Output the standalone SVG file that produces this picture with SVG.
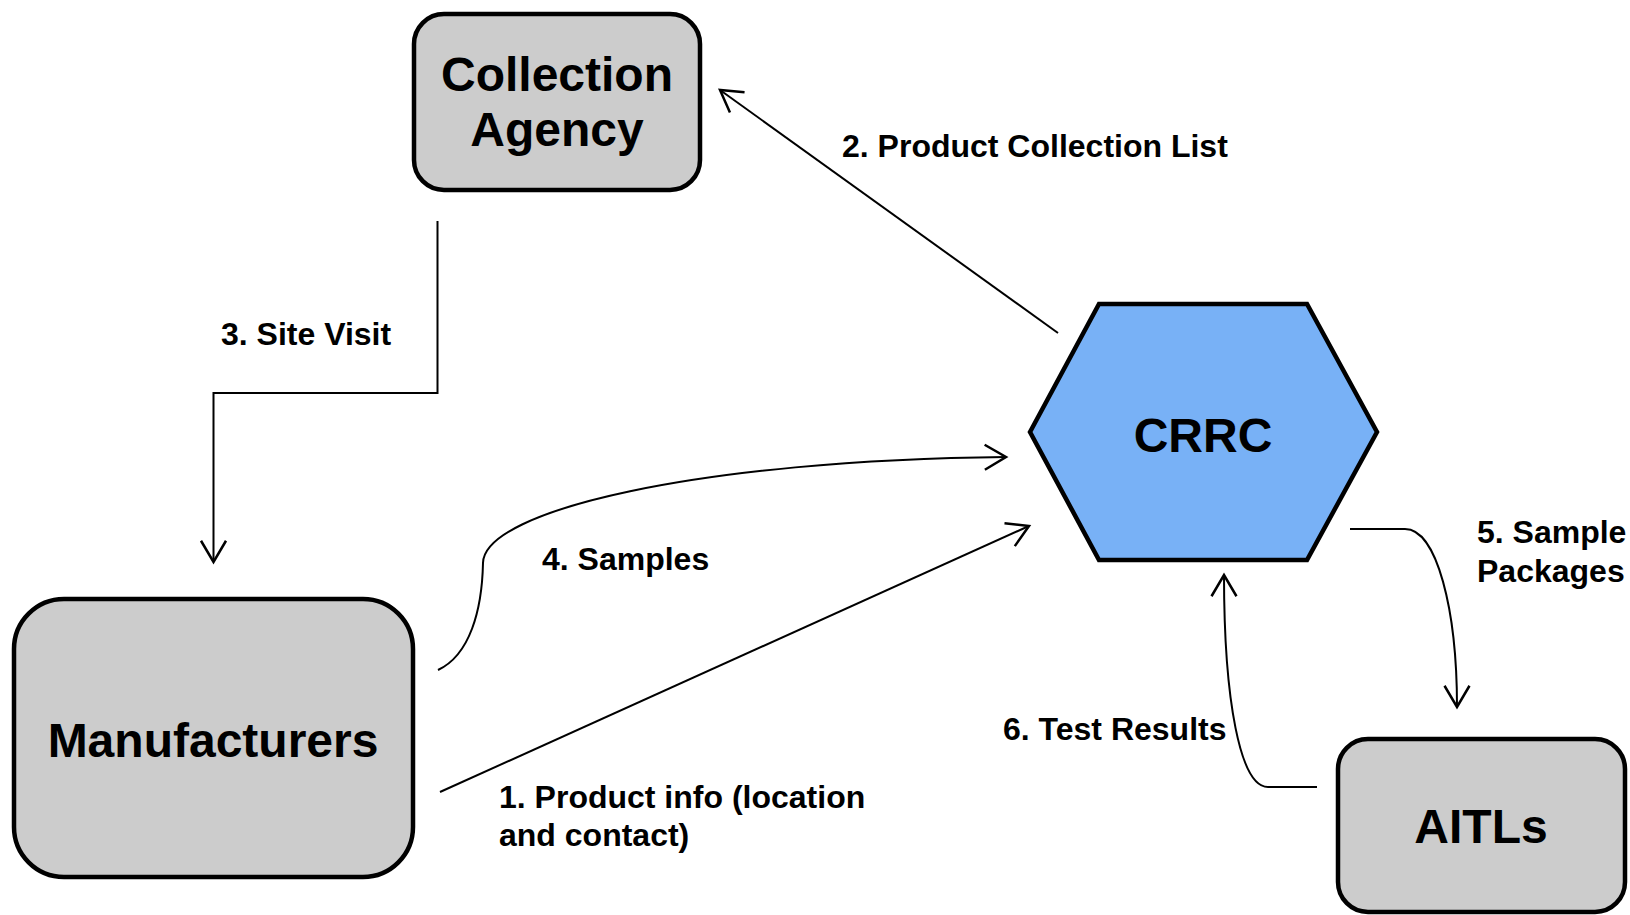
<svg xmlns="http://www.w3.org/2000/svg" width="1630" height="915" viewBox="0 0 1630 915">
<style>
.box{fill:#cccccc;stroke:#000;stroke-width:4.5}
.hex{fill:#78b1f6;stroke:#000;stroke-width:4.5}
.nt{font-family:"Liberation Sans",Arial,sans-serif;font-weight:bold;font-size:48px;fill:#000;text-anchor:middle}
.lt{font-family:"Liberation Sans",Arial,sans-serif;font-weight:bold;font-size:32px;fill:#000}
.cn{fill:none;stroke:#000;stroke-width:2;marker-end:url(#arr)}
</style>
<defs>
<marker id="arr" markerUnits="userSpaceOnUse" markerWidth="30" markerHeight="30" viewBox="-20 -12 24 24" refX="0" refY="0" orient="auto">
<path d="M -17 -10 L 0 0 L -17 10" fill="none" stroke="#000" stroke-width="2"/>
</marker>
</defs>
<rect width="1630" height="915" fill="#fff"/>
<g id="connectors">
<path class="cn" d="M 1058 333 L 720 90"/>
<path class="cn" d="M 437.5 221 L 437.5 393 L 213.5 393 L 213.5 562"/>
<path class="cn" d="M 438 670 C 470 655, 482 610, 483 563 C 484 510, 700 460, 1006 457"/>
<path class="cn" d="M 440 792 L 1029 526"/>
<path class="cn" d="M 1350 529 L 1405 529 C 1437 529, 1457 610, 1457 707"/>
<path class="cn" d="M 1317 787 L 1268 787 C 1240 787, 1224 700, 1224 575"/>
</g>
<g id="labels">
<text class="lt" x="842" y="157">2. Product Collection List</text>
<text class="lt" x="221" y="345">3. Site Visit</text>
<text class="lt" x="542" y="570">4. Samples</text>
<text class="lt" x="499" y="808">1. Product info (location</text>
<text class="lt" x="499" y="846">and contact)</text>
<text class="lt" x="1477" y="543">5. Sample</text>
<text class="lt" x="1477" y="582">Packages</text>
<text class="lt" x="1003" y="740">6. Test Results</text>
</g>
<g id="collection-agency">
<rect class="box" x="414" y="14" width="286" height="176" rx="30"/>
<text class="nt" x="557" y="91">Collection</text>
<text class="nt" x="557" y="146">Agency</text>
</g>
<g id="crrc">
<polygon class="hex" points="1030,432 1099,304 1307,304 1377,432 1307,560 1099,560"/>
<text class="nt" x="1203" y="452">CRRC</text>
</g>
<g id="manufacturers">
<rect class="box" x="14" y="599" width="399" height="278" rx="50"/>
<text class="nt" x="213" y="757">Manufacturers</text>
</g>
<g id="aitls">
<rect class="box" x="1338" y="739" width="287" height="173" rx="30"/>
<text class="nt" x="1481" y="843">AITLs</text>
</g>
</svg>
